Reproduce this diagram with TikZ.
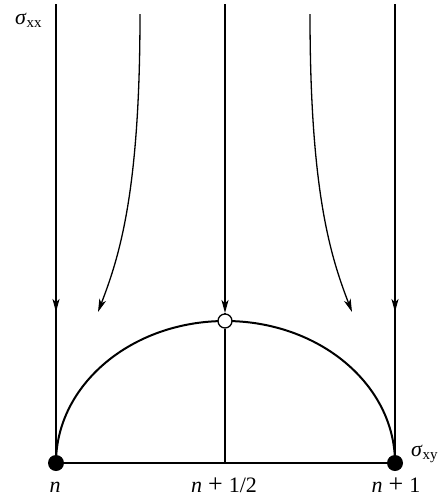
\documentclass[tikz,border=0pt]{standalone}
\usepackage{fontspec}
\setmainfont{Liberation Serif}
\usetikzlibrary{arrows.meta}
\begin{document}
\begin{tikzpicture}[x=1pt,y=-1pt,
  flow/.style={line width=1.3pt},
  tip/.style={-{Stealth[length=13pt,width=7pt,inset=3.5pt]}},
  arcline/.style={line width=2pt},
  fdot/.style={circle,fill=black,inner sep=0pt,minimum size=16pt},
  odot/.style={circle,draw=black,fill=white,line width=1.3pt,inner sep=0pt,minimum size=14pt},
  lab/.style={inner sep=0pt,font=\fontsize{22}{24}\selectfont}]
\useasboundingbox (0,0) rectangle (439,499);
% coordinates
\coordinate (lt) at (56,4);
\coordinate (lm) at (56,312);
\coordinate (mt) at (225,4);
\coordinate (mm) at (225,313);
\coordinate (rt) at (395,4);
\coordinate (rm) at (395,312);
\coordinate (cl0) at (140,14);
\coordinate (cl1) at (98,312);
\coordinate (cr0) at (310,14);
\coordinate (cr1) at (352,312);
\coordinate (mb) at (225,463);
% semi-ellipse
\draw[arcline] (56,463) arc[start angle=180,end angle=0,x radius=169.5,y radius=-142];
% vertical flow lines
\draw[flow] (lt) -- (56,463);
\draw[flow,tip] (lt) -- (lm);
\draw[flow] (rt) -- (395,463);
\draw[flow,tip] (rt) -- (rm);
\draw[flow,tip] (mt) -- (mm);
% curved flows
\draw[flow,tip] (cl0) .. controls (140,190) and (120,255) .. (cl1);
\draw[flow,tip] (cr0) .. controls (310,190) and (330,255) .. (cr1);
% dots
\node[fdot] (dl) at (56,463) {};
\node[fdot] (dr) at (395,463) {};
\node[odot] (dm) at (225,321) {};
\draw[flow] (dl) -- (dr);
\draw[flow] (dm) -- (mb);
\draw[flow] (mm) -- (dm);
% labels
\node[lab,anchor=base west] (sxx) at (15,24) {\textit{σ}\raisebox{-3pt}{\fontsize{15}{15}\selectfont xx}};
\node[lab,anchor=base west] (sxy) at (411,456) {\textit{σ}\raisebox{-3pt}{\fontsize{15}{15}\selectfont xy}};
\node[lab,anchor=base] (ln) at (55,492) {\textit{n}};
\node[lab,anchor=base] (lh) at (224,492) {\textit{n}\hspace{6pt}{\fontsize{26}{26}\selectfont +}\hspace{6pt}1/2};
\node[lab,anchor=base] (l1) at (396,492) {\textit{n}\hspace{6pt}{\fontsize{26}{26}\selectfont +}\hspace{6pt}1};
\end{tikzpicture}
\end{document}
